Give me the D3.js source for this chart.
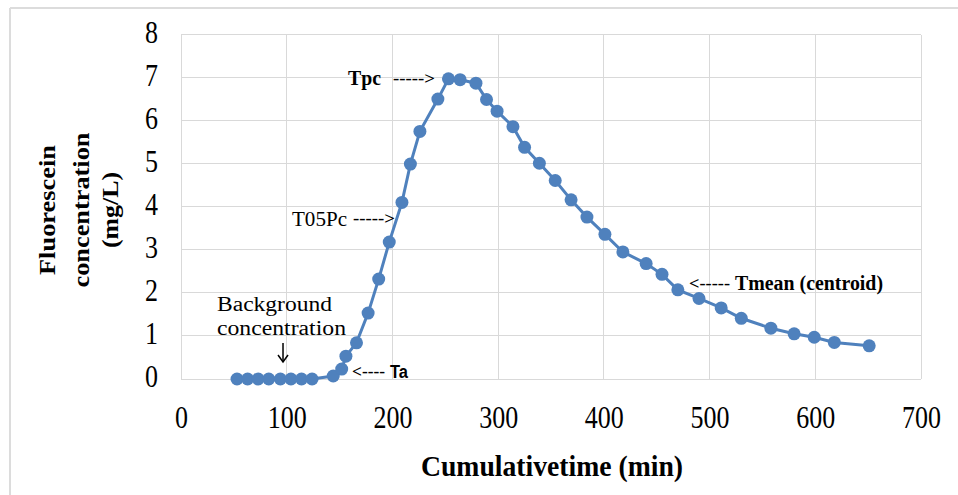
<!DOCTYPE html>
<html lang="en">
<head>
    <meta charset="UTF-8">
    <title>Fluorescein breakthrough curve</title>
    <script src="https://cdn.jsdelivr.net/npm/d3@7/dist/d3.min.js"></script>
    <style>
        body { margin: 0; background: #fff; }
        svg { display: block; }
        .grid line { stroke: #d9d9d9; stroke-width: 1; shape-rendering: crispEdges; }
        .axis path, .axis line { display: none; }
        .axis text { font-family: "Liberation Serif", serif; font-size: 26px; fill: #000; }
        .note { font-family: "Liberation Serif", serif; fill: #000; }
        .note.sans { font-family: "Liberation Sans", Arial, sans-serif; }
    </style>
</head>
<body>
<script>
	// data
	var timeMin = [53, 63, 73, 83, 94, 104, 114, 124, 144, 152, 156, 166, 177, 187, 197, 209, 217, 226,
		243, 253, 264, 279, 289, 299, 314, 325, 339, 354, 369, 384, 401, 418, 440, 455, 470, 490,
		511, 530, 558, 580, 599, 618, 651];
	var concMgL = [0, 0, 0, 0, 0, 0, 0, 0, 0.07, 0.23, 0.53, 0.84, 1.53, 2.32, 3.18, 4.1, 4.99, 5.75,
		6.5, 6.97, 6.95, 6.87, 6.49, 6.22, 5.86, 5.38, 5.01, 4.61, 4.16, 3.76, 3.36, 2.95, 2.68, 2.43, 2.07, 1.87,
		1.65, 1.41, 1.18, 1.05, 0.97, 0.85, 0.77];
	var xTicks = [0, 100, 200, 300, 400, 500, 600, 700];
	var yTicks = [0, 1, 2, 3, 4, 5, 6, 7, 8];

	var width = 958;
	var height = 495;
	var svg = d3.select("body")
		.append("svg")
		.attr("width", width)
		.attr("height", height);

	// outer frame (only top and left are visible)
	svg.append("line").attr("x1", 10).attr("x2", width).attr("y1", 8).attr("y2", 8)
		.attr("stroke", "#dcdcdc").attr("stroke-width", 2);
	svg.append("line").attr("x1", 10).attr("x2", 10).attr("y1", 8).attr("y2", height)
		.attr("stroke", "#dcdcdc").attr("stroke-width", 2);

	var x = d3.scaleLinear().domain([0, 700]).range([181, 921]);
	var y = d3.scaleLinear().domain([0, 8]).range([379, 34.5]);

	// grid
	var grid = svg.append("g").attr("class", "grid");
	grid.selectAll(".gx").data(xTicks).enter().append("line")
		.attr("x1", function (d) { return x(d); })
		.attr("x2", function (d) { return x(d); })
		.attr("y1", y(0)).attr("y2", y(8));
	grid.selectAll(".gy").data(yTicks).enter().append("line")
		.attr("x1", x(0)).attr("x2", x(700))
		.attr("y1", function (d) { return y(d); })
		.attr("y2", function (d) { return y(d); });

	// axes (labels a bit stretched vertically like the source image)
	var xAxis = d3.axisBottom(x).tickValues(xTicks).tickSize(0).tickPadding(0);
	var yAxis = d3.axisLeft(y).tickValues(yTicks).tickSize(0).tickPadding(0);
	svg.append("g").attr("class", "axis")
		.attr("transform", "translate(0,379)")
		.call(xAxis)
		.selectAll("text").attr("dy", null).attr("y", 0)
		.attr("transform", "translate(0,49) scale(1,1.18)");
	svg.append("g").attr("class", "axis")
		.attr("transform", "translate(158,0)")
		.call(yAxis)
		.selectAll("text").attr("dy", null).attr("y", 0)
		.attr("transform", "translate(0,7.5) scale(1,1.18)");

	// series
	var pts = timeMin.map(function (t, i) { return [t, concMgL[i]]; });
	var line = d3.line()
		.x(function (d) { return x(d[0]); })
		.y(function (d) { return y(d[1]); });
	svg.append("path")
		.datum(pts)
		.attr("d", line)
		.attr("fill", "none")
		.attr("stroke", "#4f81bd")
		.attr("stroke-width", 3);
	svg.selectAll(".pt").data(pts).enter().append("circle")
		.attr("cx", function (d) { return x(d[0]); })
		.attr("cy", function (d) { return y(d[1]); })
		.attr("r", 6.5)
		.attr("fill", "#4f81bd");

	// axis titles
	var yTitle = ["Fluorescein", "concentration", "(mg/L)"];
	var yTitleLen = [130, 155, 76];
	var yTitleX = [55, 89, 118];
	yTitle.forEach(function (s, i) {
		svg.append("text")
			.attr("class", "note")
			.attr("transform", "translate(" + yTitleX[i] + ",210) rotate(-90)")
			.attr("text-anchor", "middle")
			.attr("font-weight", "bold")
			.attr("font-size", 24)
			.attr("textLength", yTitleLen[i])
			.attr("lengthAdjust", "spacingAndGlyphs")
			.text(s);
	});
	svg.append("text")
		.attr("class", "note")
		.attr("transform", "translate(552,476) scale(1,1.12)")
		.attr("text-anchor", "middle")
		.attr("font-weight", "bold")
		.attr("font-size", 27)
		.attr("textLength", 262)
		.attr("lengthAdjust", "spacingAndGlyphs")
		.text("Cumulativetime (min)");

	// annotations
	function note(s, x0, yb, size, len, weight, cls, sy) {
		return svg.append("text")
			.attr("class", "note" + (cls ? " " + cls : ""))
			.attr("transform", "translate(" + x0 + "," + yb + ") scale(1," + (sy || 1.1) + ")")
			.attr("font-size", size)
			.attr("font-weight", weight || "normal")
			.attr("textLength", len)
			.attr("lengthAdjust", "spacingAndGlyphs")
			.text(s);
	}
	note("Tpc", 348, 85, 19, 33, "bold");
	note("----->", 393, 84, 16, 42, "bold");
	note("T05Pc", 292, 226, 20, 55);
	note("----->", 353, 224, 16, 42, "bold");
	note("Background", 217, 311, 20, 115, null, null, 1);
	note("concentration", 217, 335, 20, 129, null, null, 1);
	note("<----", 352, 377, 15, 33, "bold");
	note("Ta", 390, 378, 16, 18, "bold", "sans");
	note("<-----", 689, 289, 15, 41, "bold");
	note("Tmean (centroid)", 735, 290, 19, 148, "bold");

	// down arrow over background points
	var ax = x(96.5);
	svg.append("line").attr("x1", ax).attr("x2", ax).attr("y1", 343).attr("y2", 362)
		.attr("stroke", "#000").attr("stroke-width", 1.5);
	svg.append("path").attr("d", "M" + (ax - 5) + ",355 L" + ax + ",362 L" + (ax + 5) + ",355")
		.attr("fill", "none").attr("stroke", "#000").attr("stroke-width", 1.5);
</script>
</body>
</html>
